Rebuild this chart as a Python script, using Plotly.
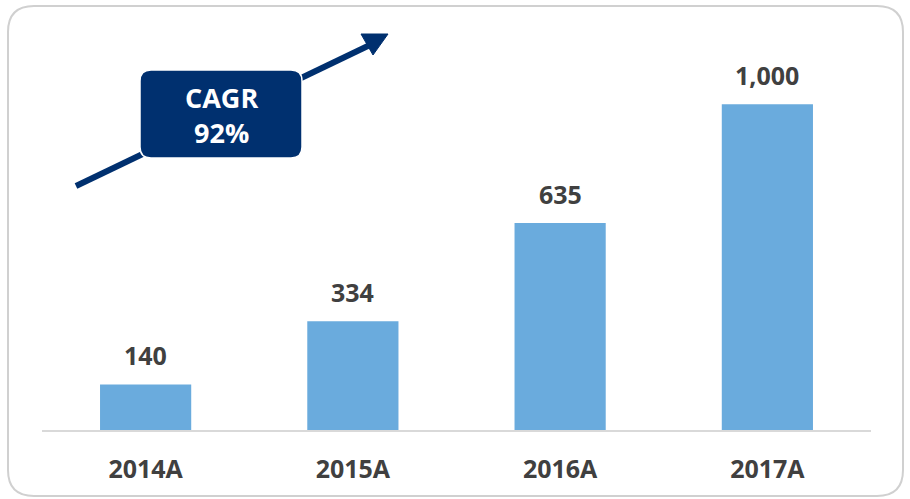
import plotly.graph_objects as go

categories = ["2014A", "2015A", "2016A", "2017A"]
values = [140, 334, 635, 1000]
value_labels = ["140", "334", "635", "1,000"]
cagr_text = "CAGR<br>92%"

W, H = 910, 499
X0, X1 = 42, 871
YT, YB = 39, 430

def px(x):
    return (x - X0) / (X1 - X0)

def py(y):
    return (YB - y) / (YB - YT)

def rounded_path(x0, y0, x1, y1, r):
    pts = [
        f"M {px(x0 + r)} {py(y0)}",
        f"L {px(x1 - r)} {py(y0)}",
        f"Q {px(x1)} {py(y0)} {px(x1)} {py(y0 + r)}",
        f"L {px(x1)} {py(y1 - r)}",
        f"Q {px(x1)} {py(y1)} {px(x1 - r)} {py(y1)}",
        f"L {px(x0 + r)} {py(y1)}",
        f"Q {px(x0)} {py(y1)} {px(x0)} {py(y1 - r)}",
        f"L {px(x0)} {py(y0 + r)}",
        f"Q {px(x0)} {py(y0)} {px(x0 + r)} {py(y0)}",
        "Z",
    ]
    return " ".join(pts)

TXT = "#404040"
NAVY = "#00306F"
FONT = "Open Sans"

fig = go.Figure()
fig.add_trace(go.Bar(
    x=categories, y=values,
    marker=dict(color="#6AABDD", line=dict(width=0)),
    hoverinfo="skip",
))

annotations = []
for c, v, t in zip(categories, values, value_labels):
    annotations.append(dict(
        x=c, y=v, xref="x", yref="y", text=f"<b>{t}</b>",
        showarrow=False, yanchor="bottom", yshift=10,
        font=dict(family=FONT, size=25, color=TXT),
    ))

annotations.append(dict(
    x=px(221), y=py(115), xref="paper", yref="paper", text=f"<b>{cagr_text}</b>",
    showarrow=False, xanchor="center", yanchor="middle",
    font=dict(family=FONT, size=27, color="white"),
))

shapes = [
    dict(type="path", xref="paper", yref="paper",
         path=rounded_path(8, 6, 903, 496, 26),
         line=dict(color="#D0D0D0", width=2), fillcolor="rgba(0,0,0,0)", layer="below"),
    dict(type="line", xref="paper", yref="paper",
         x0=px(76), y0=py(186), x1=px(372), y1=py(44),
         line=dict(color=NAVY, width=6)),
    dict(type="path", xref="paper", yref="paper",
         path=f"M {px(361)} {py(34)} L {px(388)} {py(34)} L {px(373)} {py(55)} Z",
         line=dict(color=NAVY, width=1), fillcolor=NAVY),
    dict(type="path", xref="paper", yref="paper",
         path=rounded_path(140, 70, 302, 158, 11),
         line=dict(color="white", width=1.5), fillcolor=NAVY),
]

fig.update_layout(
    width=W, height=H,
    margin=dict(l=X0, r=W - X1, t=YT, b=H - YB),
    paper_bgcolor="white", plot_bgcolor="white",
    bargap=0.56,
    showlegend=False,
    annotations=annotations,
    shapes=shapes,
    xaxis=dict(
        showline=True, linecolor="#D9D9D9", linewidth=1.5,
        showgrid=False, ticks="", zeroline=False,
        tickfont=dict(family=FONT, size=25, color=TXT),
        ticklabelstandoff=16,
        tickprefix="<b>", ticksuffix="</b>",
    ),
    yaxis=dict(visible=False, range=[0, 1200], showgrid=False, zeroline=False),
)

fig.write_html(
    "out.html",
    config={"displayModeBar": False},
    post_script="document.body.style.margin='0';document.body.style.overflow='hidden';",
)
